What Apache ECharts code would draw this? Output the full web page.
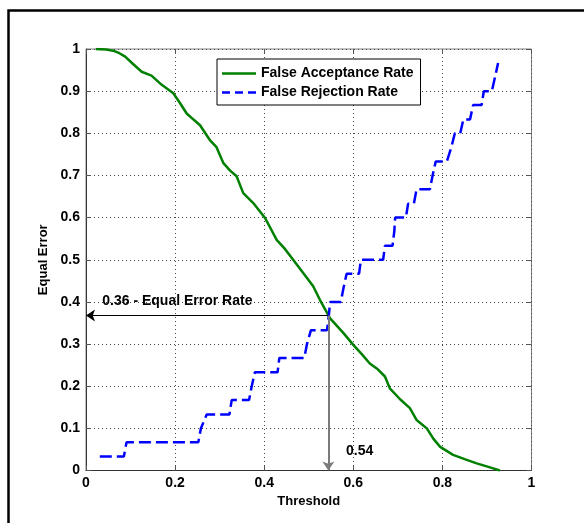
<!DOCTYPE html>
<html><head><meta charset="utf-8">
<script src="https://cdn.jsdelivr.net/npm/echarts@6/dist/echarts.min.js"></script>
<style>html,body{margin:0;padding:0;background:#fff;}#chart{width:584px;height:523px;}</style>
</head><body><div id="chart"></div>
<script>
// ---- data ----
const seriesNames = ['False Acceptance Rate', 'False Rejection Rate'];
const xTitle = 'Threshold';
const yTitle = 'Equal Error';
const xTickStep = 0.2;
const yTickStep = 0.1;

const farThreshold = [0.022,0.045,0.061,0.075,0.088,0.105,0.125,0.147,0.170,0.196,0.212,0.226,0.242,0.256,0.278,0.293,0.308,0.323,0.338,0.353,0.375,0.402,0.428,0.447,0.465,0.488,0.510,0.525,0.548,0.578,0.600,0.620,0.637,0.655,0.671,0.682,0.705,0.727,0.742,0.765,0.780,0.795,0.824,0.850,0.877,0.905,0.929];
const farValues    = [1.000,0.999,0.996,0.990,0.982,0.965,0.946,0.937,0.915,0.895,0.870,0.847,0.832,0.819,0.784,0.767,0.730,0.712,0.698,0.658,0.635,0.599,0.547,0.525,0.500,0.468,0.437,0.405,0.361,0.326,0.298,0.275,0.254,0.240,0.223,0.195,0.169,0.148,0.120,0.100,0.075,0.056,0.037,0.027,0.017,0.008,0.000];

const frrThreshold = [0.031,0.085,0.091,0.252,0.258,0.271,0.322,0.327,0.366,0.372,0.379,0.430,0.434,0.490,0.496,0.505,0.541,0.545,0.548,0.572,0.578,0.585,0.613,0.617,0.667,0.671,0.688,0.692,0.694,0.718,0.723,0.736,0.742,0.772,0.778,0.785,0.810,0.820,0.828,0.840,0.847,0.862,0.869,0.888,0.893,0.911,0.918,0.925];
const frrValues    = [0.033,0.033,0.067,0.067,0.100,0.133,0.133,0.167,0.167,0.200,0.233,0.233,0.267,0.267,0.300,0.333,0.333,0.367,0.400,0.400,0.433,0.467,0.467,0.500,0.500,0.533,0.533,0.567,0.600,0.600,0.633,0.633,0.667,0.667,0.700,0.733,0.733,0.767,0.800,0.800,0.833,0.833,0.867,0.867,0.900,0.900,0.933,0.967];

const eerThreshold = 0.544;
const eerValue = 0.368;
const eerLabelText = '0.36 - Equal Error Rate';
const eerThresholdText = '0.54';

// ---- chart ----
const FONT = '"Liberation Sans", Arial, Helvetica, sans-serif';
const zip = (xs, ys) => xs.map((x, i) => [x, ys[i]]);
const txt = {fontFamily: FONT, fontSize: 14, fontWeight: 'bold', color: '#000'};

function mkAxis(step, pos, main, extra) {
  return Object.assign({
    type: 'value', min: 0, max: 1, interval: step, position: pos,
    axisLine: {show: main, onZero: false, lineStyle: {color: '#333', width: 1}},
    axisTick: {show: true, inside: true, length: 5, lineStyle: {color: '#555', width: 1}},
    axisLabel: main ? Object.assign({show: true, margin: 6}, txt) : {show: false},
    splitLine: main ? {show: true, lineStyle: {type: [1, 3], color: '#444', width: 1}} : {show: false}
  }, extra || {});
}

const chart = echarts.init(document.getElementById('chart'), null, {renderer: 'canvas'});
chart.setOption({
  animation: false,
  backgroundColor: '#fff',
  grid: {left: 86, top: 49, right: 52.5, bottom: 52.5, show: true, borderColor: '#808080', borderWidth: 1},
  xAxis: [
    mkAxis(xTickStep, 'bottom', true, {name: xTitle, nameLocation: 'middle', nameGap: 22,
      nameTextStyle: {fontFamily: FONT, fontSize: 13, fontWeight: 'bold', color: '#000'}}),
    mkAxis(xTickStep, 'top', false)
  ],
  yAxis: [
    mkAxis(yTickStep, 'left', true, {name: yTitle, nameLocation: 'middle', nameGap: 31,
      nameTextStyle: {fontFamily: FONT, fontSize: 13, fontWeight: 'bold', color: '#000'}}),
    mkAxis(yTickStep, 'right', false)
  ],
  legend: {
    orient: 'vertical', left: 217, top: 59, padding: [7, 7, 5, 5], itemGap: 4,
    itemWidth: 34, itemHeight: 2.5,
    backgroundColor: '#fff', borderColor: '#000', borderWidth: 1, borderRadius: 0,
    textStyle: {fontFamily: FONT, fontSize: 14, fontWeight: 'bold', color: '#000', lineHeight: 15},
    data: [
      {name: seriesNames[0], icon: 'rect'},
      {name: seriesNames[1], icon: 'path://M0,0h8v2.5h-8z M13,0h8v2.5h-8z M26,0h8v2.5h-8z'}
    ]
  },
  graphic: [{
    type: 'rect', silent: true, z: 100,
    shape: {x: 8.5, y: 10.5, width: 640, height: 640},
    style: {fill: null, stroke: '#000', lineWidth: 2.5}
  }],
  series: [
    {name: seriesNames[0], type: 'line', data: zip(farThreshold, farValues), symbol: 'none',
      lineStyle: {color: '#008000', width: 2.5}, itemStyle: {color: '#008000'}, z: 3},
    {name: seriesNames[1], type: 'line', data: zip(frrThreshold, frrValues), symbol: 'none',
      lineStyle: {color: '#0000ff', width: 2.5, type: [12, 5], cap: 'butt'}, itemStyle: {color: '#0000ff'}, z: 4},
    {type: 'lines', coordinateSystem: 'cartesian2d', xAxisIndex: 0, yAxisIndex: 0,
      symbol: ['none', 'arrow'], symbolSize: 9, silent: true, z: 5,
      data: [
        {coords: [[eerThreshold, eerValue], [0, eerValue]], lineStyle: {color: '#000', width: 1}},
        {coords: [[eerThreshold, eerValue], [eerThreshold, 0]], lineStyle: {color: '#7a7a7a', width: 2}}
      ],
      lineStyle: {opacity: 1, curveness: 0}
    },
    {type: 'scatter', symbol: 'circle', symbolSize: 0.5, itemStyle: {color: '#fff', opacity: 1}, silent: true, z: 6,
      label: Object.assign({show: true, position: 'right', distance: 0, opacity: 1, formatter: p => p.data.text}, txt),
      data: [
        {value: [0.036, 0.402], text: eerLabelText},
        {value: [0.583, 0.045], text: eerThresholdText}
      ]
    }
  ]
});
</script></body></html>
